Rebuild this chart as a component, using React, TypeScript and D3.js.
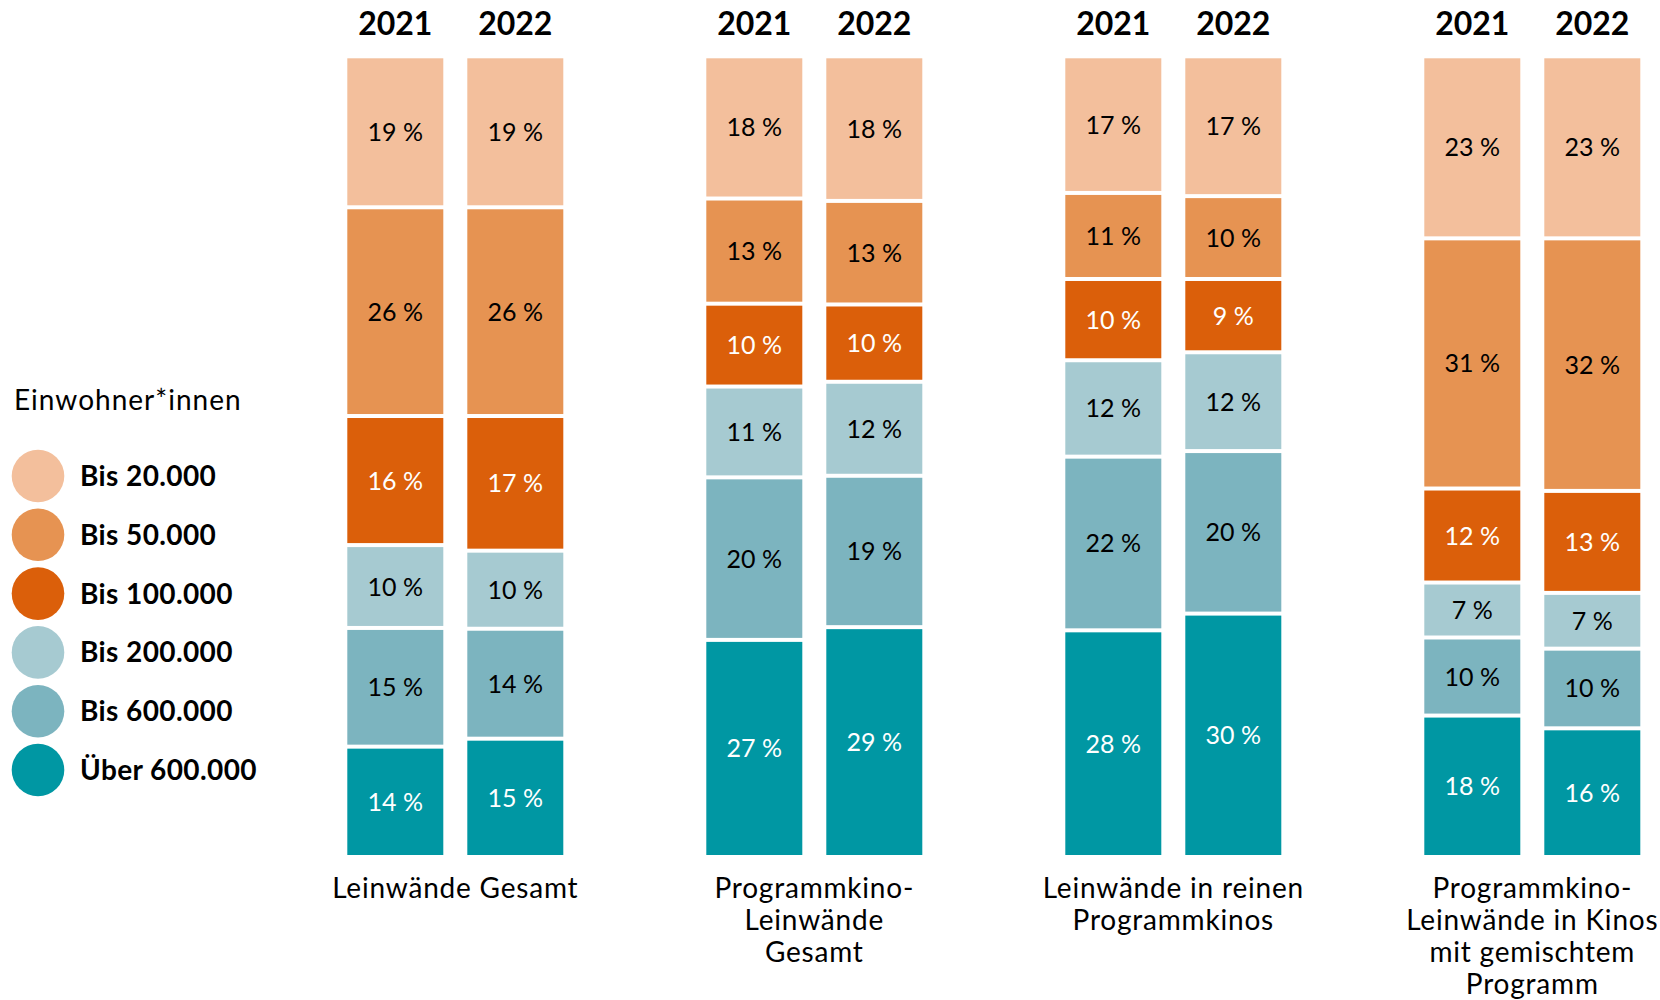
import * as d3 from "d3";

const sizeClasses = ["Bis 20.000", "Bis 50.000", "Bis 100.000", "Bis 200.000", "Bis 600.000", "Über 600.000"];
const classColors = ["#F3BF9C", "#E69352", "#DB5F0A", "#A6CAD1", "#7CB4BF", "#0097A3"];
const whiteText = ["Bis 100.000", "Über 600.000"];

const years = ["2021", "2022"];
const groups = ["g1", "g2", "g3", "g4"];
const groupLabels = [
  ["Leinwände Gesamt"],
  ["Programmkino-", "Leinwände", "Gesamt"],
  ["Leinwände in reinen", "Programmkinos"],
  ["Programmkino-", "Leinwände in Kinos", "mit gemischtem", "Programm"],
];

// shares in percent, top (Bis 20.000) to bottom (Über 600.000)
const leinwaendeGesamt2021 = [18.7, 26.2, 16.2, 10.4, 14.9, 13.6];
const leinwaendeGesamt2022 = [18.7, 26.2, 16.9, 9.8, 13.8, 14.6];
const programmkinoGesamt2021 = [17.6, 13.2, 10.4, 11.4, 20.4, 27.0];
const programmkinoGesamt2022 = [17.9, 13.0, 9.7, 11.8, 19.0, 28.6];
const reineProgrammkinos2021 = [16.9, 10.8, 10.2, 12.1, 21.8, 28.2];
const reineProgrammkinos2022 = [17.3, 10.4, 9.2, 12.4, 20.4, 30.3];
const gemischtesProgramm2021 = [22.6, 31.4, 11.8, 6.9, 9.8, 17.5];
const gemischtesProgramm2022 = [22.6, 31.7, 12.8, 7.0, 10.0, 15.9];

const seriesByGroup = [
  [leinwaendeGesamt2021, leinwaendeGesamt2022],
  [programmkinoGesamt2021, programmkinoGesamt2022],
  [reineProgrammkinos2021, reineProgrammkinos2022],
  [gemischtesProgramm2021, gemischtesProgramm2022],
];

type Row = { group: string; year: string; [key: string]: number | string };

const rows: Row[] = groups.flatMap((group, gi) =>
  years.map((year, yi) => {
    const row: Row = { group, year };
    sizeClasses.forEach((cls, ci) => {
      row[cls] = seriesByGroup[gi][yi][ci];
    });
    return row;
  })
);

const WIDTH = 1660;
const HEIGHT = 1000;
const FONT = "Lato, 'Open Sans', sans-serif";
const GAP = 2;

const App = () => {
  const xGroup = d3
    .scaleBand<string>()
    .domain(groups)
    .range([347.3, 1640.3])
    .paddingInner(143 / 359)
    .paddingOuter(0);
  const xYear = d3
    .scaleBand<string>()
    .domain(years)
    .range([0, xGroup.bandwidth()])
    .paddingInner(0.2);
  const y = d3.scaleLinear().domain([0, 100]).range([855, 58.3]);

  const stackKeys = [...sizeClasses].reverse();
  const stacked = d3
    .stack<Row>()
    .keys(stackKeys)
    .value((row, key) => row[key] as number)(rows);

  const color = d3.scaleOrdinal<string, string>().domain(sizeClasses).range(classColors);

  return (
    <svg
      width={WIDTH}
      height={HEIGHT}
      style={{ position: "absolute", left: 0, top: 0, background: "white" }}
      fontFamily={FONT}
    >
      {/* year headers */}
      {groups.map((group) =>
        years.map((year) => (
          <text
            key={`${group}-${year}`}
            x={(xGroup(group) ?? 0) + (xYear(year) ?? 0) + xYear.bandwidth() / 2}
            y={35}
            textAnchor="middle"
            fontSize={32}
            fontWeight={700}
            fill="#000"
          >
            {year}
          </text>
        ))
      )}

      {/* stacked bars */}
      {stacked.map((layer, li) => (
        <g key={layer.key}>
          {layer.map((d) => {
            const row = d.data;
            const x = (xGroup(row.group) ?? 0) + (xYear(row.year) ?? 0);
            const isBottom = li === 0;
            const isTop = li === stacked.length - 1;
            const yTop = y(d[1]) + (isTop ? 0 : GAP);
            const yBottom = y(d[0]) - (isBottom ? 0 : GAP);
            const value = d[1] - d[0];
            return (
              <g key={`${row.group}-${row.year}`}>
                <rect
                  x={x}
                  y={yTop}
                  width={xYear.bandwidth()}
                  height={Math.max(0, yBottom - yTop)}
                  fill={color(layer.key)}
                />
                <text
                  x={x + xYear.bandwidth() / 2}
                  y={(yTop + yBottom) / 2 + 9}
                  textAnchor="middle"
                  fontSize={25}
                  fill={whiteText.includes(layer.key) ? "#fff" : "#000"}
                >
                  {`${Math.round(value)} %`}
                </text>
              </g>
            );
          })}
        </g>
      ))}

      {/* category labels */}
      {groups.map((group, gi) => (
        <text
          key={group}
          x={(xGroup(group) ?? 0) + xGroup.bandwidth() / 2}
          y={898}
          textAnchor="middle"
          fontSize={28}
          letterSpacing={0.8}
          fill="#000"
        >
          {groupLabels[gi].map((line, li) => (
            <tspan key={li} x={(xGroup(group) ?? 0) + xGroup.bandwidth() / 2} dy={li === 0 ? 0 : 32}>
              {line}
            </tspan>
          ))}
        </text>
      ))}

      {/* legend */}
      <text x={14} y={410} fontSize={28} letterSpacing={1} fill="#000">
        Einwohner*innen
      </text>
      {sizeClasses.map((cls, i) => (
        <g key={cls} transform={`translate(38,${476 + i * 58.8})`}>
          <circle r={26.3} fill={color(cls)} />
          <text x={42} y={10} fontSize={28} fontWeight={700} letterSpacing={0.4} fill="#000">
            {cls}
          </text>
        </g>
      ))}
    </svg>
  );
};

export default App;
